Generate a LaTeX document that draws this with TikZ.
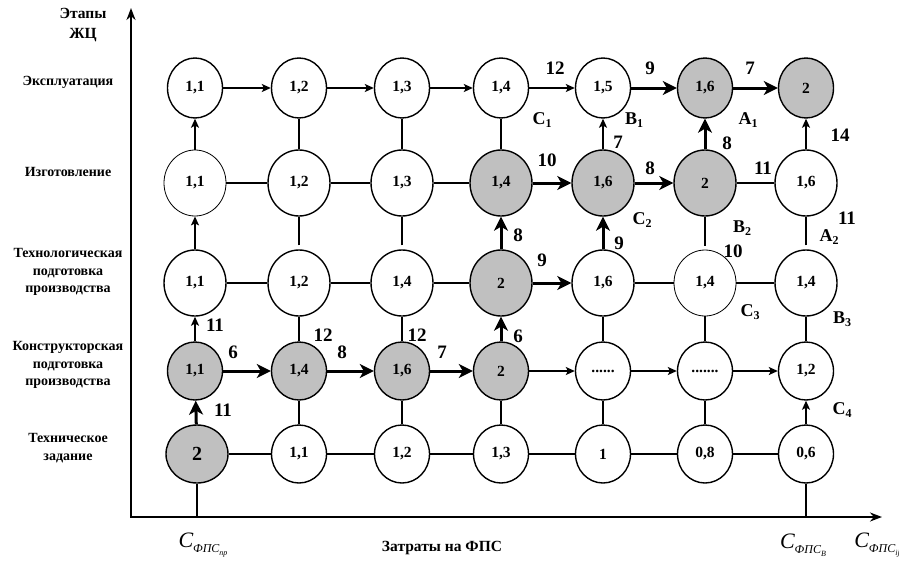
\documentclass[tikz,border=0pt]{standalone}
\usepackage{fontspec}
\setmainfont{Liberation Serif}
\usepackage{xcolor}
\usetikzlibrary{shapes.geometric,arrows.meta}
\definecolor{grayfill}{HTML}{C0C0C0}
\newcommand{\Cfps}[1]{{\fontsize{22}{22}\selectfont\itshape C}\raisebox{-4.5pt}{\fontsize{12}{12}\selectfont\itshape ФПС\raisebox{-3pt}{\fontsize{8}{8}\selectfont #1}}}
\newcommand{\Lab}[2]{#1\raisebox{-3pt}{\fontsize{12}{12}\selectfont #2}}
\begin{document}
\begin{tikzpicture}[x=1pt,y=-1pt,
 nd/.style={ellipse,draw,line width=1.4pt,inner sep=0pt,font=\fontsize{15.5}{15.5}\selectfont\bfseries},
 ra/.style={nd,minimum width=55pt,minimum height=60pt},
 rb/.style={nd,minimum width=62pt,minimum height=66pt},
 rc/.style={nd,minimum width=55pt,minimum height=58pt},
 gr/.style={fill=grayfill},
 thinb/.style={line width=0.8pt},
 ln/.style={line width=1.4pt},
 gapln/.style={line width=1.4pt,shorten <=4pt},
 tar/.style={line width=1.3pt,-{Stealth[length=9pt,width=8pt,inset=2pt]}},
 kar/.style={line width=3pt,-{Stealth[length=14pt,width=14pt,inset=4pt]}},
 axisline/.style={line width=2.2pt},
 wt/.style={font=\fontsize{19}{19}\selectfont\bfseries,inner sep=0pt},
 pl/.style={font=\fontsize{18}{18}\selectfont\bfseries,inner sep=0pt},
 rl/.style={font=\fontsize{14}{17.5}\selectfont\bfseries,align=center,inner sep=0pt},
]
\useasboundingbox (0,0) rectangle (899,563);

% axes
\coordinate (O) at (131,517);
\coordinate (ytop) at (131,8);
\coordinate (xend) at (882,517);
\draw[axisline,{Stealth[length=12pt,width=9pt]}-{Stealth[length=12pt,width=9pt]}] (ytop) -- (O) -- (xend);

% row 1
\node[ra] (n11) at (195,88) {1,1};
\node[ra] (n12) at (299,88) {1,2};
\node[ra] (n13) at (402,88) {1,3};
\node[ra] (n14) at (501,88) {1,4};
\node[ra] (n15) at (603,88) {1,5};
\node[ra,gr] (n16) at (705,88) {1,6};
\node[ra,gr] (n17) at (806,88) {2};
% row 2
\node[rb,thinb] (n21) at (195,183) {1,1};
\node[rb] (n22) at (299,183) {1,2};
\node[rb] (n23) at (402,183) {1,3};
\node[rb,gr] (n24) at (501,183) {1,4};
\node[rb,gr] (n25) at (603,183) {1,6};
\node[rb,gr] (n26) at (705,183) {2};
\node[rb] (n27) at (806,183) {1,6};
% row 3
\node[rb] (n31) at (195,283) {1,1};
\node[rb] (n32) at (299,283) {1,2};
\node[rb] (n33) at (402,283) {1,4};
\node[rb,gr] (n34) at (501,283) {2};
\node[rb] (n35) at (603,283) {1,6};
\node[rb,thinb] (n36) at (705,283) {1,4};
\node[rb] (n37) at (806,283) {1,4};
% row 4
\node[rc,gr] (n41) at (195,371) {1,1};
\node[rc,gr] (n42) at (299,371) {1,4};
\node[rc,gr] (n43) at (402,371) {1,6};
\node[rc,gr] (n44) at (501,371) {2};
\node[rc] (n45) at (603,371) {......};
\node[rc] (n46) at (705,371) {.......};
\node[rc] (n47) at (806,371) {1,2};
% row 5
\node[rc,gr,minimum width=62pt,font=\fontsize{20}{20}\selectfont\bfseries] (n51) at (197,454) {2};
\node[rc] (n52) at (299,454) {1,1};
\node[rc] (n53) at (402,454) {1,2};
\node[rc] (n54) at (501,454) {1,3};
\node[rc] (n55) at (603,454) {1};
\node[rc] (n56) at (705,454) {0,8};
\node[rc] (n57) at (806,454) {0,6};

% row 1 horizontals
\draw[tar] (n11) -- (n12);
\draw[tar] (n12) -- (n13);
\draw[tar] (n13) -- (n14);
\draw[tar] (n14) -- (n15);
\draw[kar] (n15) -- (n16);
\draw[kar] (n16) -- (n17);
% rows 2-1
\draw[tar] (n21) -- (n11);
\draw[ln] (n22) -- (n12);
\draw[ln] (n23) -- (n13);
\draw[ln] (n24) -- (n14);
\draw[tar] (n25) -- (n15);
\draw[kar] (n26) -- (n16);
\draw[tar] (n27) -- (n17);
% row 2 horizontals
\draw[ln] (n21) -- (n22);
\draw[ln] (n22) -- (n23);
\draw[ln] (n23) -- (n24);
\draw[kar] (n24) -- (n25);
\draw[kar] (n25) -- (n26);
\draw[ln] (n26) -- (n27);
% rows 3-2
\draw[tar] (n31) -- (n21);
\draw[gapln] (n32) -- (n22);
\draw[gapln] (n33) -- (n23);
\draw[kar] (n34) -- (n24);
\draw[kar] (n35) -- (n25);
\draw[gapln] (n36) -- (n26);
\draw[gapln] (n37) -- (n27);
% row 3 horizontals
\draw[ln] (n31) -- (n32);
\draw[ln] (n32) -- (n33);
\draw[ln] (n33) -- (n34);
\draw[kar] (n34) -- (n35);
\draw[ln] (n35) -- (n36);
\draw[ln] (n36) -- (n37);
% rows 4-3
\draw[tar] (n41) -- (n31);
\draw[ln] (n42) -- (n32);
\draw[ln] (n43) -- (n33);
\draw[kar] (n44) -- (n34);
\draw[ln] (n45) -- (n35);
\draw[ln] (n46) -- (n36);
\draw[ln] (n47) -- (n37);
% row 4 horizontals
\draw[kar] (n41) -- (n42);
\draw[kar] (n42) -- (n43);
\draw[kar] (n43) -- (n44);
\draw[tar] (n44) -- (n45);
\draw[tar] (n45) -- (n46);
\draw[tar] (n46) -- (n47);
% rows 5-4
\draw[kar] (n51) -- (n41);
\draw[ln] (n52) -- (n42);
\draw[ln] (n53) -- (n43);
\draw[ln] (n54) -- (n44);
\draw[ln] (n55) -- (n45);
\draw[ln] (n56) -- (n46);
\draw[tar] (n57) -- (n47);
% row 5 horizontals
\draw[ln] (n51) -- (n52);
\draw[ln] (n52) -- (n53);
\draw[ln] (n53) -- (n54);
\draw[ln] (n54) -- (n55);
\draw[ln] (n55) -- (n56);
\draw[ln] (n56) -- (n57);
% to axis
\draw[ln] (n51) -- (n51 |- O);
\draw[ln] (n57) -- (n57 |- O);

% weights
\node[wt] (w1) at (555,68) {12};
\node[wt] (w2) at (650,68) {9};
\node[wt] (w3) at (750,68) {7};
\node[wt] (w4) at (618,142) {7};
\node[wt] (w5) at (727,143) {8};
\node[wt] (w6) at (840,135) {14};
\node[wt] (w7) at (547,160) {10};
\node[wt] (w8) at (650,168) {8};
\node[wt] (w9) at (763,168) {11};
\node[wt] (w10) at (847,218) {11};
\node[wt] (w11) at (518,235) {8};
\node[wt] (w12) at (619,243) {9};
\node[wt] (w13) at (733,251) {10};
\node[wt] (w14) at (542,260) {9};
\node[wt] (w15) at (215,325) {11};
\node[wt] (w16) at (233,352) {6};
\node[wt] (w17) at (323,335) {12};
\node[wt] (w18) at (342,352) {8};
\node[wt] (w19) at (417,335) {12};
\node[wt] (w20) at (442,352) {7};
\node[wt] (w21) at (518,336) {6};
\node[wt] (w22) at (223,410) {11};

% point labels
\node[pl] (c1) at (542,120) {\Lab{C}{1}};
\node[pl] (b1) at (634,120) {\Lab{B}{1}};
\node[pl] (a1) at (748,120) {\Lab{A}{1}};
\node[pl] (c2) at (642,220) {\Lab{C}{2}};
\node[pl] (b2) at (742,228) {\Lab{B}{2}};
\node[pl] (a2) at (829,237) {\Lab{A}{2}};
\node[pl] (c3) at (750,312) {\Lab{C}{3}};
\node[pl] (b3) at (842,319) {\Lab{B}{3}};
\node[pl] (c4) at (842,410) {\Lab{C}{4}};

% row labels
\node[rl,font=\fontsize{15.5}{20}\selectfont\bfseries] (t0) at (83,25) {Этапы\\ЖЦ};
\node[rl] (t1) at (68,82) {Эксплуатация};
\node[rl] (t2) at (68,172) {Изготовление};
\node[rl] (t3) at (68,272) {Технологическая\\подготовка\\производства};
\node[rl] (t4) at (68,365) {Конструкторская\\подготовка\\производства};
\node[rl] (t5) at (68,448) {Техническое\\задание};

% axis labels
\node[font=\fontsize{15.5}{15.5}\selectfont\bfseries,inner sep=0pt] (xl) at (442,548) {Затраты на ФПС};
\node[inner sep=0pt] (cp) at (203,545) {\Cfps{пр}};
\node[inner sep=0pt] (cb) at (803,545) {\Cfps{В}};
\node[inner sep=0pt] (cij) at (877,545) {\Cfps{ij}};
\end{tikzpicture}
\end{document}
